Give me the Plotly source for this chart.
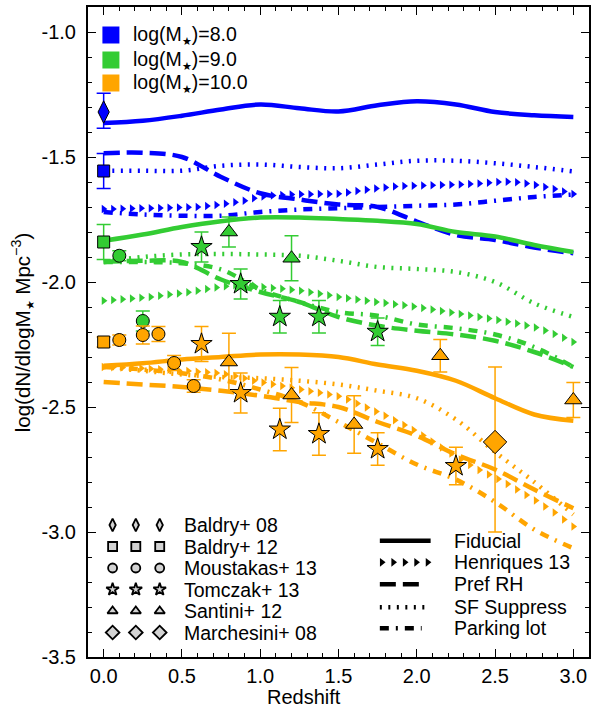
import plotly.graph_objects as go

# ---------------- data ----------------
BLUE, GREEN, ORANGE = "#0000ff", "#33cc33", "#ffa500"
STAR = '<sub><span style="font-size:11px">★</span></sub>'
mass_labels = ["log(M" + STAR + ")=8.0", "log(M" + STAR + ")=9.0", "log(M" + STAR + ")=10.0"]
colors = [BLUE, GREEN, ORANGE]

# model curves (sampled every 0.25 in z)
z_model = [0.0, 0.25, 0.5, 0.75, 1.0, 1.25, 1.5, 1.75, 2.0, 2.25, 2.5, 2.75, 3.0]

fid_8 = [-1.364, -1.355, -1.335, -1.31, -1.29, -1.305, -1.318, -1.293, -1.277, -1.29, -1.32, -1.333, -1.34]
prh_8 = [-1.485, -1.483, -1.50, -1.58, -1.645, -1.67, -1.69, -1.70, -1.758, -1.812, -1.832, -1.862, -1.885]
sfs_8 = [-1.555, -1.555, -1.555, -1.535, -1.53, -1.54, -1.545, -1.53, -1.515, -1.515, -1.525, -1.54, -1.558]
park_8 = [-1.72, -1.73, -1.735, -1.735, -1.72, -1.71, -1.705, -1.70, -1.695, -1.69, -1.675, -1.66, -1.65]

fid_9 = [-1.835, -1.81, -1.78, -1.757, -1.742, -1.742, -1.748, -1.755, -1.768, -1.80, -1.818, -1.852, -1.88]
prh_9 = [-1.92, -1.915, -1.92, -1.99, -2.04, -2.08, -2.14, -2.175, -2.195, -2.21, -2.235, -2.28, -2.34]
sfs_9 = [-1.92, -1.90, -1.89, -1.888, -1.89, -1.895, -1.915, -1.94, -1.948, -1.96, -2.00, -2.085, -2.14]
park_9 = [-1.92, -1.92, -1.925, -1.95, -2.03, -2.08, -2.12, -2.135, -2.17, -2.185, -2.21, -2.26, -2.34]

fid_10 = [-2.335, -2.325, -2.31, -2.30, -2.29, -2.29, -2.30, -2.33, -2.355, -2.395, -2.465, -2.53, -2.555]
prh_10 = [-2.40, -2.41, -2.42, -2.435, -2.455, -2.48, -2.50, -2.56, -2.615, -2.69, -2.75, -2.83, -2.905]
sfs_10 = [-2.34, -2.355, -2.37, -2.38, -2.385, -2.395, -2.41, -2.435, -2.465, -2.55, -2.68, -2.80, -2.93]
park_10 = [-2.34, -2.35, -2.365, -2.39, -2.43, -2.48, -2.56, -2.645, -2.73, -2.79, -2.88, -2.99, -3.065]

# Henriques 13 model (denser sampling)
z_henr = [0.00, 0.06, 0.12, 0.18, 0.24, 0.30, 0.36, 0.42, 0.48, 0.54, 0.60, 0.66, 0.72, 0.78, 0.84,
          0.90, 0.96, 1.02, 1.08, 1.14, 1.20, 1.26, 1.32, 1.38, 1.44, 1.50, 1.56, 1.62, 1.68, 1.74,
          1.80, 1.86, 1.92, 1.98, 2.04, 2.10, 2.16, 2.22, 2.28, 2.34, 2.40, 2.46, 2.52, 2.58, 2.64,
          2.70, 2.76, 2.82, 2.88, 2.94, 3.00]
henr_8 = [-1.708, -1.708, -1.707, -1.706, -1.705, -1.705, -1.704, -1.703, -1.702, -1.701, -1.700,
          -1.696, -1.692, -1.687, -1.681, -1.675, -1.665, -1.658, -1.654, -1.652, -1.650, -1.649,
          -1.649, -1.648, -1.648, -1.647, -1.642, -1.636, -1.631, -1.626, -1.622, -1.618, -1.616,
          -1.615, -1.614, -1.613, -1.612, -1.611, -1.610, -1.608, -1.606, -1.603, -1.600, -1.599,
          -1.601, -1.606, -1.612, -1.620, -1.628, -1.638, -1.648]
henr_9 = [-2.075, -2.072, -2.069, -2.066, -2.063, -2.060, -2.055, -2.050, -2.046, -2.041, -2.035,
          -2.028, -2.022, -2.017, -2.013, -2.012, -2.015, -2.020, -2.024, -2.027, -2.031, -2.035,
          -2.041, -2.047, -2.053, -2.060, -2.065, -2.070, -2.075, -2.080, -2.084, -2.089, -2.093,
          -2.098, -2.104, -2.110, -2.116, -2.122, -2.128, -2.134, -2.140, -2.146, -2.152, -2.159,
          -2.166, -2.174, -2.182, -2.194, -2.208, -2.223, -2.240]
henr_10 = [-2.340, -2.341, -2.342, -2.344, -2.345, -2.347, -2.349, -2.351, -2.354, -2.356, -2.359,
           -2.361, -2.364, -2.369, -2.376, -2.385, -2.395, -2.402, -2.409, -2.416, -2.423, -2.430,
           -2.437, -2.443, -2.450, -2.457, -2.470, -2.486, -2.502, -2.518, -2.535, -2.553, -2.572,
           -2.592, -2.614, -2.638, -2.662, -2.686, -2.710, -2.732, -2.752, -2.770, -2.788, -2.808,
           -2.830, -2.852, -2.874, -2.898, -2.922, -2.950, -2.978]

# observations
# Baldry+08 (blue)
b08_z = [0.0]; b08_v = [-1.32]; b08_ep = [0.075]; b08_em = [0.065]
# Baldry+12
b12_z = [0.0]
b12_v8 = [-1.556]; b12_e8 = [0.07]
b12_v9 = [-1.84]; b12_e9 = [0.07]
b12_v10 = [-2.24]; b12_e10 = [0.02]
# Moustakas+13
mou_z9 = [0.1, 0.25]; mou_v9 = [-1.895, -2.156]; mou_e9 = [0.02, 0.04]
mou_z10 = [0.1, 0.25, 0.35, 0.45, 0.575]
mou_v10 = [-2.232, -2.212, -2.208, -2.324, -2.416]
mou_e10 = [0.02, 0.036, 0.03, 0.03, 0.025]
# Tomczak+13
tom_z9 = [0.625, 0.875, 1.125, 1.375, 1.75]
tom_v9 = [-1.86, -2.008, -2.139, -2.139, -2.199]
tom_e9 = [0.06, 0.06, 0.065, 0.065, 0.055]
tom_z10 = [0.625, 0.875, 1.125, 1.375, 1.75, 2.25]
tom_v10 = [-2.248, -2.444, -2.59, -2.608, -2.668, -2.736]
tom_e10 = [0.07, 0.08, 0.085, 0.085, 0.065, 0.075]
# Santini+12
san_z9 = [0.8, 1.2]; san_v9 = [-1.80, -1.905]; san_e9 = [0.06, 0.09]
san_z10 = [0.8, 1.2, 1.6, 2.15, 3.0]
san_v10 = [-2.32, -2.452, -2.57, -2.295, -2.472]
san_e10 = [0.115, 0.11, 0.115, 0.065, 0.07]
# Marchesini+08
mar_z = [2.5]; mar_v = [-2.64]; mar_ep = [0.30]; mar_em = [0.36]

x_ticks = [0.0, 0.5, 1.0, 1.5, 2.0, 2.5, 3.0]
x_ticktext = ["0.0", "0.5", "1.0", "1.5", "2.0", "2.5", "3.0"]
y_ticks = [-3.5, -3.0, -2.5, -2.0, -1.5, -1.0]
y_ticktext = ["-3.5", "-3.0", "-2.5", "-2.0", "-1.5", "-1.0"]

obs_names = ["Baldry+ 08", "Baldry+ 12", "Moustakas+ 13", "Tomczak+ 13", "Santini+ 12", "Marchesini+ 08"]
obs_symbols = ["diamond-tall", "square", "circle", "star", "triangle-up", "diamond"]
model_names = ["Fiducial", "Henriques 13", "Pref RH", "SF Suppress", "Parking lot"]

# ---------------- styling ----------------
FONT = "Liberation Sans, Arial, Helvetica, sans-serif"
LW = 4.5
DOT = "2px,6.5px"
DASH = "16px,7px"
DASHDOT = "9px,7px,2px,7px"

# plot-area geometry in px (for legend placement)
L, R, T, B = 88, 1, 7, 58
W, H = 592, 715
PW, PH = W - L - R, H - T - B
def fx(px): return (px - L) / PW
def fy(py): return (H - B - py) / PH

fig = go.Figure()

model_sets = [
    (fid_8, prh_8, sfs_8, park_8, henr_8),
    (fid_9, prh_9, sfs_9, park_9, henr_9),
    (fid_10, prh_10, sfs_10, park_10, henr_10),
]
for (fid, prh, sfs, park, henr), c in zip(model_sets, colors):
    fig.add_trace(go.Scatter(x=z_model, y=park, mode="lines", line=dict(color=c, width=LW, dash=DASHDOT, shape="spline"), showlegend=False))
    fig.add_trace(go.Scatter(x=z_model, y=sfs, mode="lines", line=dict(color=c, width=LW, dash=DOT, shape="spline"), showlegend=False))
    fig.add_trace(go.Scatter(x=z_model, y=prh, mode="lines", line=dict(color=c, width=LW, dash=DASH, shape="spline"), showlegend=False))
    fig.add_trace(go.Scatter(x=z_henr, y=henr, mode="markers", marker=dict(color=c, size=7.5, symbol="triangle-right", line=dict(width=0)), showlegend=False))
    fig.add_trace(go.Scatter(x=z_model, y=fid, mode="lines", line=dict(color=c, width=LW, shape="spline"), showlegend=False))

def obs(x, y, ep, em, c, sym, size):
    fig.add_trace(go.Scatter(
        x=x, y=y, mode="markers",
        marker=dict(color=c, size=size, symbol=sym, line=dict(color="black", width=1)),
        error_y=dict(type="data", symmetric=False, array=ep, arrayminus=em, color=c, thickness=1.5, width=7),
        showlegend=False))

obs(b08_z, b08_v, b08_ep, b08_em, BLUE, "diamond-tall", 16)
obs(b12_z, b12_v8, b12_e8, b12_e8, BLUE, "square", 12)
obs(b12_z, b12_v9, b12_e9, b12_e9, GREEN, "square", 12)
obs(b12_z, b12_v10, b12_e10, b12_e10, ORANGE, "square", 12)
obs(mou_z9, mou_v9, mou_e9, mou_e9, GREEN, "circle", 13)
obs(mou_z10, mou_v10, mou_e10, mou_e10, ORANGE, "circle", 13)
obs(tom_z9, tom_v9, tom_e9, tom_e9, GREEN, "star", 16)
obs(tom_z10, tom_v10, tom_e10, tom_e10, ORANGE, "star", 16)
obs(san_z9, san_v9, san_e9, san_e9, GREEN, "triangle-up", 15)
obs(san_z10, san_v10, san_e10, san_e10, ORANGE, "triangle-up", 15)
obs(mar_z, mar_v, mar_ep, mar_em, ORANGE, "diamond", 18)

# ---------------- custom legends (overlay axis in plot-fraction units) ----------------
ann = []
# mass legend
mass_rows = [35, 60, 83]
for lab, c, py in zip(mass_labels, colors, mass_rows):
    fig.add_trace(go.Scatter(x=[fx(111)], y=[fy(py)], xaxis="x2", yaxis="y2", mode="markers",
                             marker=dict(symbol="square", size=17, color=c), showlegend=False))
    ann.append(dict(x=fx(131), y=fy(py), xref="paper", yref="paper", text=lab, showarrow=False,
                    xanchor="left", yanchor="middle", font=dict(size=19.5, color="black", family=FONT)))

# observation legend
obs_rows = [525, 546.5, 568, 589.5, 611, 632.5]
obs_key_sizes = [9, 9, 9, 9.5, 9, 10.5]
for name, sym, sz, py in zip(obs_names, obs_symbols, obs_key_sizes, obs_rows):
    fig.add_trace(go.Scatter(x=[fx(112.7), fx(136), fx(160)], y=[fy(py)] * 3, xaxis="x2", yaxis="y2", mode="markers",
                             marker=dict(symbol=sym, size=sz, color="#d3d3d3", line=dict(color="black", width=1.8)),
                             showlegend=False))
    ann.append(dict(x=fx(182), y=fy(py), xref="paper", yref="paper", text=name, showarrow=False,
                    xanchor="left", yanchor="middle", font=dict(size=19.5, color="black", family=FONT)))

# model legend
mod_rows = [540.7, 562.3, 584.3, 607.3, 628.3]
styles = [None, "henr", DASH, DOT, DASHDOT]
for name, st, py in zip(model_names, styles, mod_rows):
    if st == "henr":
        fig.add_trace(go.Scatter(x=[fx(383), fx(394.5), fx(406), fx(417.5), fx(429)], y=[fy(py)] * 5,
                                 xaxis="x2", yaxis="y2", mode="markers",
                                 marker=dict(symbol="triangle-right", size=7.5, color="black"), showlegend=False))
    else:
        x1 = 432 if st is None else (424 if st == DASH else (430 if st == DOT else 423))
        fig.add_trace(go.Scatter(x=[fx(381), fx(x1)], y=[fy(py)] * 2, xaxis="x2", yaxis="y2", mode="lines",
                                 line=dict(color="black", width=LW, dash=st if st else "solid"), showlegend=False))
    ann.append(dict(x=fx(453), y=fy(py), xref="paper", yref="paper", text=name, showarrow=False,
                    xanchor="left", yanchor="middle", font=dict(size=19.5, color="black", family=FONT)))

# axis titles
ann.append(dict(x=fx(305), y=fy(697), xref="paper", yref="paper", text="Redshift", showarrow=False,
                xanchor="center", yanchor="middle", font=dict(size=20, color="black", family=FONT)))
ann.append(dict(x=fx(22), y=0.5, xref="paper", yref="paper", text="log(dN/dlogM" + STAR + " Mpc<sup>−3</sup>)",
                showarrow=False, textangle=-90, xanchor="center", yanchor="middle",
                font=dict(size=20.5, color="black", family=FONT)))

axis_common = dict(showgrid=False, zeroline=False, showline=True, linewidth=2, linecolor="black",
                   mirror="allticks", ticks="inside", ticklen=8, tickwidth=1, tickcolor="black",
                   tickfont=dict(size=20, color="black", family=FONT))

fig.update_layout(
    width=W, height=H,
    margin=dict(l=L, r=R, t=T, b=B),
    paper_bgcolor="white", plot_bgcolor="white",
    showlegend=False,
    font=dict(family=FONT, color="black"),
    xaxis=dict(range=[-0.1, 3.1], tickvals=x_ticks, ticktext=x_ticktext, ticklabeloverflow="allow",
               minor=dict(dtick=0.1, tick0=0, ticks="inside", ticklen=4, tickcolor="black"), **axis_common),
    yaxis=dict(range=[-3.5, -0.9], tickvals=y_ticks, ticktext=y_ticktext, ticklabelstandoff=6,
               minor=dict(dtick=0.1, tick0=0, ticks="inside", ticklen=4, tickcolor="black"), **axis_common),
    xaxis2=dict(overlaying="x", range=[0, 1], visible=False),
    yaxis2=dict(overlaying="y", range=[0, 1], visible=False),
    annotations=ann,
)

fig.write_html("out.html", config={"displayModeBar": False},
               post_script="document.body.style.margin='0';document.body.style.overflow='hidden';")
